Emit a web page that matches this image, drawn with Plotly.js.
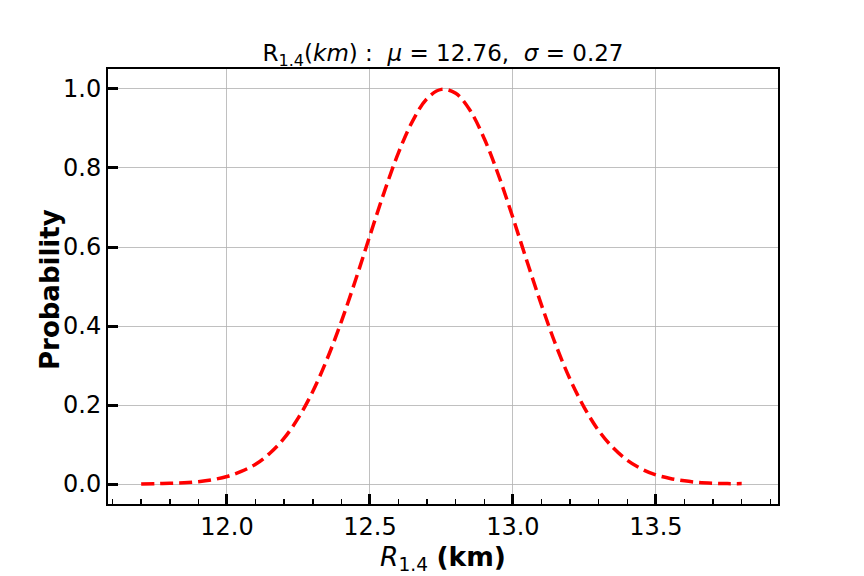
<!DOCTYPE html>
<html>
<head>
<meta charset="utf-8">
<script src="https://cdn.plot.ly/plotly-3.0.1.min.js"></script>
<style>
  html, body { margin: 0; padding: 0; background: #ffffff; }
  #chart { width: 864px; height: 576px; }
</style>
</head>
<body>
<div id="chart"></div>
<script>
// R_1.4 values (km)
const radius = [
    11.70, 11.75, 11.80, 11.85, 11.90, 11.95, 12.00, 12.05, 12.10, 12.15,
    12.20, 12.25, 12.30, 12.35, 12.40, 12.45, 12.50, 12.55, 12.60, 12.65,
    12.70, 12.75, 12.80, 12.85, 12.90, 12.95, 13.00, 13.05, 13.10, 13.15,
    13.20, 13.25, 13.30, 13.35, 13.40, 13.45, 13.50, 13.55, 13.60, 13.65,
    13.70, 13.75, 13.80
];

// normalised probability at each radius
const probability = [
    0.000, 0.001, 0.002, 0.003, 0.006, 0.011, 0.019, 0.032, 0.050, 0.078,
    0.116, 0.168, 0.234, 0.316, 0.411, 0.517, 0.629, 0.739, 0.839, 0.920,
    0.976, 0.999, 0.989, 0.946, 0.874, 0.781, 0.674, 0.562, 0.453, 0.352,
    0.265, 0.193, 0.135, 0.092, 0.060, 0.038, 0.023, 0.014, 0.008, 0.004,
    0.002, 0.001, 0.001
];

const xTicks = [12.0, 12.5, 13.0, 13.5];
const yTicks = [0.0, 0.2, 0.4, 0.6, 0.8, 1.0];

const font = 'DejaVu Sans, sans-serif';

// plot box in pixels (matches the matplotlib axes)
const W = 864, H = 576;
const box = { l: 108, r: 86, t: 69, b: 72 };
const plotW = W - box.l - box.r;
const plotH = H - box.t - box.b;

const trace = {
    x: radius,
    y: probability,
    type: 'scatter',
    mode: 'lines',
    line: { color: '#ff0000', width: 3.5, dash: '13px,6px', shape: 'spline' },
    hoverinfo: 'x+y'
};

const axisBase = {
    ticks: 'inside',
    ticklen: 10,
    tickwidth: 3,
    tickcolor: '#000000',
    tickfont: { family: font, size: 24 },
    showgrid: true,
    gridcolor: '#b0b0b0',
    gridwidth: 0.8,
    zeroline: false,
    showline: true,
    linecolor: '#000000',
    linewidth: 2,
    mirror: true
};

const layout = {
    width: W,
    height: H,
    paper_bgcolor: '#ffffff',
    plot_bgcolor: '#ffffff',
    font: { family: font, color: '#000000', size: 24 },
    margin: { l: box.l, r: box.r, t: box.t, b: box.b, pad: 0 },
    showlegend: false,
    title: {
        text: 'R<sub>1.4</sub>(<i>km</i>) :  <i>μ</i> = 12.76,  <i>σ</i> = 0.27',
        font: { family: font, size: 23, color: '#000000' },
        x: 0.5,
        xref: 'paper',
        xanchor: 'center',
        y: 1 - 53 / H,
        yref: 'container',
        yanchor: 'middle'
    },
    xaxis: {
        ...axisBase,
        range: [11.584, 13.927],
        tickvals: xTicks,
        ticktext: xTicks.map(v => v.toFixed(1)),
        minor: {
            dtick: 0.1,
            tick0: 11.6,
            ticks: 'inside',
            ticklen: 5,
            tickwidth: 1.5,
            tickcolor: '#000000',
            showgrid: false
        },
        title: {
            text: '<i>R</i><sub>1.4</sub> <b>(km)</b>',
            font: { family: font, size: 26.5 },
            standoff: 0
        }
    },
    yaxis: {
        ...axisBase,
        range: [-0.0506, 1.0506],
        tickvals: yTicks,
        ticktext: yTicks.map(v => v.toFixed(1))
    },
    annotations: [
        {
            // y axis label
            text: '<b>Probability</b>',
            font: { family: font, size: 26 },
            textangle: -90,
            xref: 'paper', yref: 'paper',
            x: (50 - box.l) / plotW, y: 1 - (289 - box.t) / plotH,
            xanchor: 'center', yanchor: 'middle',
            showarrow: false
        }
    ]
};

Plotly.newPlot('chart', [trace], layout, { displayModeBar: false, staticPlot: true });
</script>
</body>
</html>
